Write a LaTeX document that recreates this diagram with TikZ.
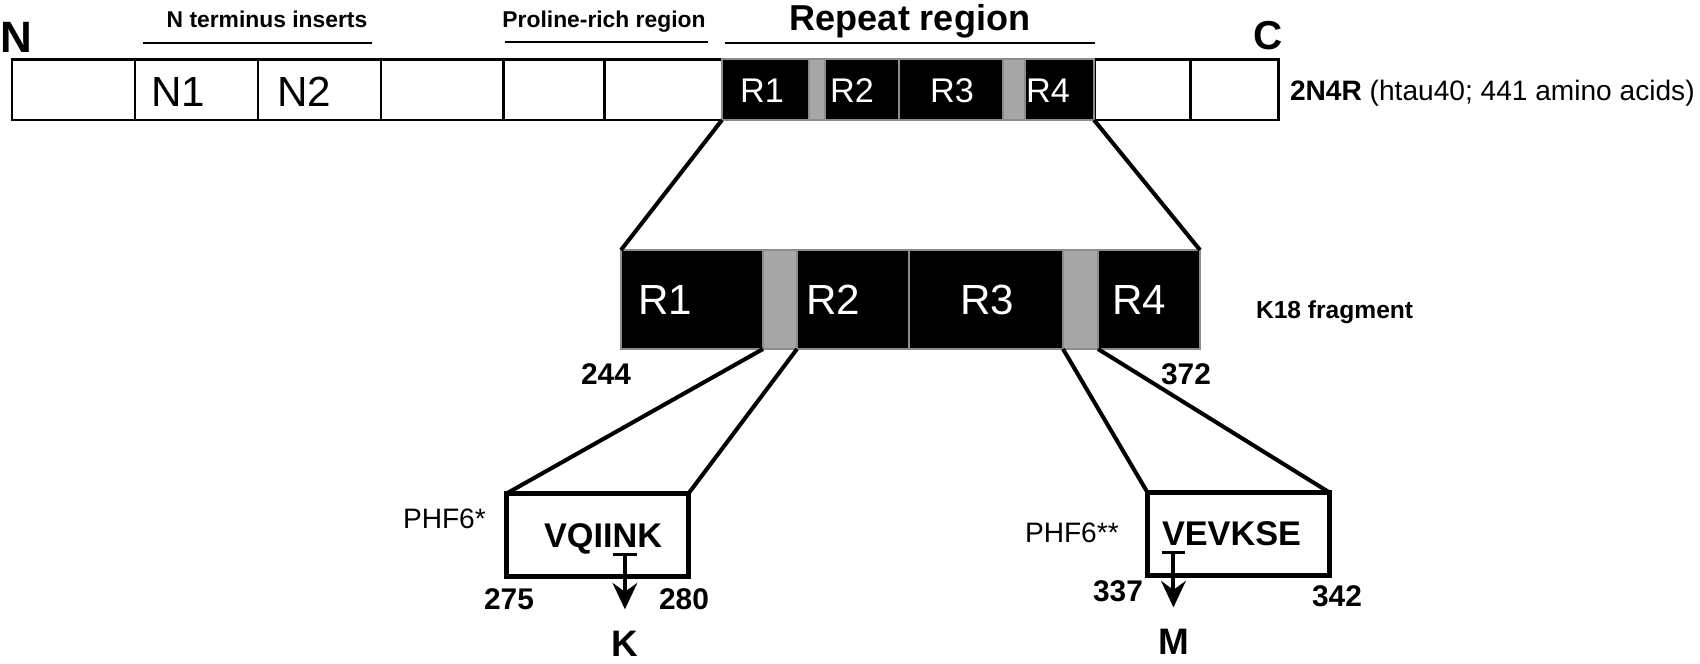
\documentclass[tikz,border=0pt]{standalone}
\usepackage{fontspec}
\setmainfont{Liberation Sans}
\usetikzlibrary{arrows.meta,positioning}

\definecolor{linkergray}{gray}{0.65}
\definecolor{edgegray}{gray}{0.55}
\newcommand{\fsz}[1]{\fontsize{#1pt}{#1pt}\selectfont}

\begin{document}
\begin{tikzpicture}[x=0.02cm, y=-0.02cm,
    every node/.style={inner sep=0pt, outer sep=0pt},
    cell/.style={draw, line width=1.7pt, fill=white, minimum height=1.22cm},
    rep/.style={draw=edgegray, line width=1.1pt, fill=black},
    linker/.style={draw=edgegray, line width=1.1pt, fill=linkergray},
    link/.style={line width=2.3pt},
    headline/.style={line width=1.1pt},
    pepbox/.style={draw, line width=2.8pt, minimum width=3.64cm, minimum height=1.66cm},
    underbar/.style={line width=1.7pt},
    mutarrow/.style={line width=2.3pt, -{Stealth[length=15pt, width=14pt, inset=5pt]}, shorten >=12.5pt},
    region/.style={font=\fsz{13}\bfseries},
    repeathead/.style={font=\fsz{20.5}\bfseries},
    terminus/.style={font=\fsz{25}\bfseries},
    insert/.style={font=\fsz{24}},
    rtop/.style={text=white, font=\fsz{19.5}},
    rfrag/.style={text=white, font=\fsz{24}},
    note/.style={font=\fsz{16}},
    resnum/.style={font=\fsz{17}\bfseries},
    seq/.style={font=\fsz{19.5}\bfseries},
    mutres/.style={font=\fsz{21}\bfseries},
    motif/.style={font=\fsz{16}}]

\useasboundingbox (0,0) rectangle (1700,663);

% full length protein
\foreach \name/\xa/\xb in {w1/12/135, n1/135/258, n2/258/381, w2/381/503,
                           p1/503/604, p2/604/722, c1/1094/1190, c2/1190/1278}
    {
    \node[cell, minimum width={(\xb-\xa)*0.02cm}] (\name) at ({(\xa+\xb)/2},89.5) {};
    }
\foreach \name/\xa/\xb in {r1/722/809, r2/825/899, r3/899/1003, r4/1025/1094}
    {
    \node[rep, minimum width={(\xb-\xa)*0.02cm}, minimum height=1.22cm] (\name) at ({(\xa+\xb)/2},89.5) {};
    }
\foreach \name/\xa/\xb in {g1/809/825, g2/1003/1025}
    {
    \node[linker, minimum width={(\xb-\xa)*0.02cm}, minimum height=1.22cm] (\name) at ({(\xa+\xb)/2},89.5) {};
    }

\node[insert] (lN1) at (178,92) {N1};
\node[insert] (lN2) at (304,92) {N2};
\foreach \name/\x in {R1/762, R2/852, R3/952, R4/1048}
    {
    \node[rtop] (top\name) at (\x,91) {\name};
    }

\node[terminus, anchor=base] (nterm) at (16,52) {N};
\node[terminus, anchor=base, font=\fsz{23}\bfseries] (cterm) at (1268,49) {C};
\node[region, anchor=base] (hins) at (267,27) {N terminus inserts};
\node[region, anchor=base] (hpro) at (604,27) {Proline-rich region};
\node[repeathead, anchor=base] (hrep) at (910,30) {Repeat region};
\draw[headline] (143,43) -- (372,43);
\draw[headline] (505,42) -- (708,42);
\draw[headline] (725,43) -- (1095,43);
\node[note, anchor=base west] (iso) at (1290,100) {\textbf{2N4R} (htau40; 441 amino acids)};

% K18 fragment
\foreach \name/\xa/\xb in {k1/621/763, k2/797/909, k3/909/1063, k4/1098/1200}
    {
    \node[rep, minimum width={(\xb-\xa)*0.02cm}, minimum height=1.98cm] (\name) at ({(\xa+\xb)/2},299.5) {};
    }
\foreach \name/\xa/\xb in {kg1/763/797, kg2/1063/1098}
    {
    \node[linker, minimum width={(\xb-\xa)*0.02cm}, minimum height=1.98cm] (\name) at ({(\xa+\xb)/2},299.5) {};
    }
\foreach \name/\x in {R1/665, R2/833, R3/987, R4/1139}
    {
    \node[rfrag] (frag\name) at (\x,300) {\name};
    }
\node[region, anchor=base west, font=\fsz{14}\bfseries] (k18) at (1256,318) {K18 fragment};
\node[resnum] (n244) at (606,374) {244};
\node[resnum] (n372) at (1186,374) {372};

\draw[link] (r1.south west) -- (k1.north west);
\draw[link] (r4.south east) -- (k4.north east);

% hexapeptide motifs
\node[pepbox] (box1) at (597.5,535) {};
\node[pepbox] (box2) at (1238.5,534) {};
\draw[link] (kg1.south west) -- (box1.north west);
\draw[link] (kg1.south east) -- (box1.north east);
\draw[link] (kg2.south west) -- (box2.north west);
\draw[link] (kg2.south east) -- (box2.north east);

\node[seq, anchor=base west] (s1a) at (544,547) {VQII};
\node[seq] (mutN) [base right=0pt of s1a] {N};
\node[seq] (s1b) [base right=0pt of mutN] {K};
\node[seq, anchor=base west] (mutV) at (1162,545) {V};
\node[seq] (s2b) [base right=0pt of mutV] {EVKSE};

\node[motif, anchor=base west] (phf1) at (403,528) {PHF6*};
\node[motif, anchor=base west] (phf2) at (1025,542) {PHF6**};
\node[resnum] (n275) at (509,599) {275};
\node[resnum] (n280) at (684,599) {280};
\node[resnum] (n337) at (1118,591) {337};
\node[resnum] (n342) at (1337,596) {342};

\node[mutres] (resK) [below=48pt of mutN] {K};
\node[mutres] (resM) [below=48pt of mutV] {M};
\draw[underbar] ([yshift=-4pt]mutN.south west) -- ([yshift=-4pt]mutN.south east);
\draw[underbar] ([yshift=-4pt]mutV.south west) -- ([yshift=-4pt]mutV.south east);
\draw[mutarrow] ([yshift=-4pt]mutN.south) -- (resK.north);
\draw[mutarrow] ([yshift=-4pt]mutV.south) -- (resM.north);

\end{tikzpicture}
\end{document}
